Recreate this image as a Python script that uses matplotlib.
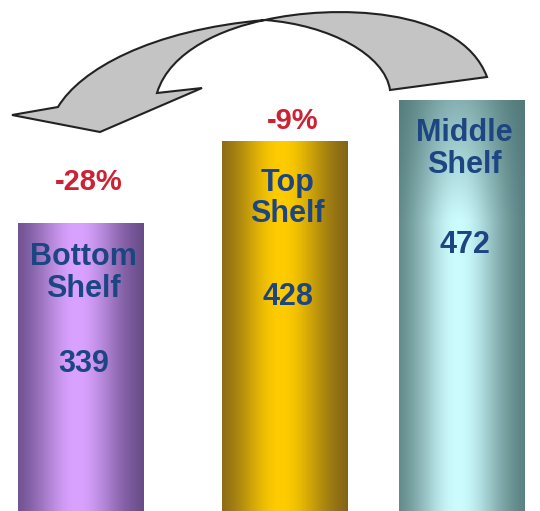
import numpy as np
import matplotlib
matplotlib.use("Agg")
import matplotlib.pyplot as plt
from matplotlib.path import Path
from matplotlib.patches import PathPatch
from matplotlib.colors import to_rgb

plt.rcParams['font.family'] = ['Liberation Sans', 'DejaVu Sans']

shelves = ["Bottom\nShelf", "Top\nShelf", "Middle\nShelf"]
values = [339, 428, 472]
changes = ["-28%", "-9%", None]

# layout
slots = [0.0, 1.0, 1.868]
bar_width = 0.613
edge_colors = ["#5a417a", "#74581a", "#4c7272"]
glow_colors = ["#d9a2ff", "#ffcc00", "#cdfcff"]
top_fade = [0, 0, 130]      # value units over which the glow dims toward the top
pct_lift = [41, 20, 0]      # pixels above bar top
name_drop = [50, 58, 49]    # pixels below bar top
num_drop = [141, 156, 145]

fig = plt.figure(figsize=(5.4, 5.11), dpi=100)
ax = fig.add_axes([0, 0, 1, 1])
ax.set_xlim(-0.395, 2.252)
ax.set_ylim(27.6, 580.1)
ax.axis("off")

bars = ax.bar(slots, values, width=bar_width, color="none", edgecolor="none")

# cylinder shading: dark sides, broad light band near the middle
t = np.linspace(0, 1, 256)
shade = np.exp(-((t - 0.47) / 0.36) ** 2)
for bar, c0, c1, fade in zip(bars, edge_colors, glow_colors, top_fade):
    a, b = np.array(to_rgb(c0)), np.array(to_rgb(c1))
    h = bar.get_height()
    v = np.linspace(h, 0, 200)
    dim = np.ones_like(v) if fade == 0 else 0.45 + 0.55 * np.clip((h - v) / fade, 0, 1)
    w = dim[:, None] * shade[None, :]
    img = a[None, None, :] + (b - a)[None, None, :] * w[:, :, None]
    x0, y0 = bar.get_x(), bar.get_y()
    im = ax.imshow(img, extent=[x0, x0 + bar.get_width(), y0, y0 + h],
                   aspect="auto", interpolation="bicubic", zorder=2)
    im.set_clip_path(bar)

for i, bar in enumerate(bars):
    cx = bar.get_x() + bar.get_width() / 2
    top = bar.get_height()
    ax.annotate(shelves[i], (cx, top), xytext=(3, -name_drop[i]), textcoords="offset pixels",
                ha="center", va="center", fontsize=22, fontweight="bold", color="#1d4582",
                linespacing=1.05, zorder=3)
    ax.annotate(str(values[i]), (cx, top), xytext=(3, -num_drop[i]), textcoords="offset pixels",
                ha="center", va="center", fontsize=22, fontweight="bold", color="#1d4582", zorder=3)
    if changes[i]:
        ax.annotate(changes[i], (cx, top), xytext=(8, pct_lift[i]), textcoords="offset pixels",
                    ha="center", va="center", fontsize=21, fontweight="bold", color="#cc2233", zorder=3)

# curved arrow from the middle shelf back to the bottom shelf
C4 = Path.CURVE4
verts = [
    (12, 115), (58, 107),
    (80, 70), (150, 30), (265, 20),
    (330, 5), (460, 5), (487, 77),
    (390, 90),
    (385, 55), (330, 25), (265, 20),
    (225, 28), (170, 50), (157, 93),
    (202, 88), (100, 132), (12, 115),
]
codes = [Path.MOVETO, Path.LINETO,
         C4, C4, C4,
         C4, C4, C4,
         Path.LINETO,
         C4, C4, C4,
         C4, C4, C4,
         Path.LINETO, Path.LINETO, Path.CLOSEPOLY]
W, H = 540, 511
verts = [(x / W, 1 - y / H) for x, y in verts]
arrow = PathPatch(Path(verts, codes), facecolor="#c4c4c4", edgecolor="#222222",
                  linewidth=1.5, transform=fig.transFigure, zorder=4)
fig.patches.append(arrow)

fig.savefig("out.png", dpi=100)
